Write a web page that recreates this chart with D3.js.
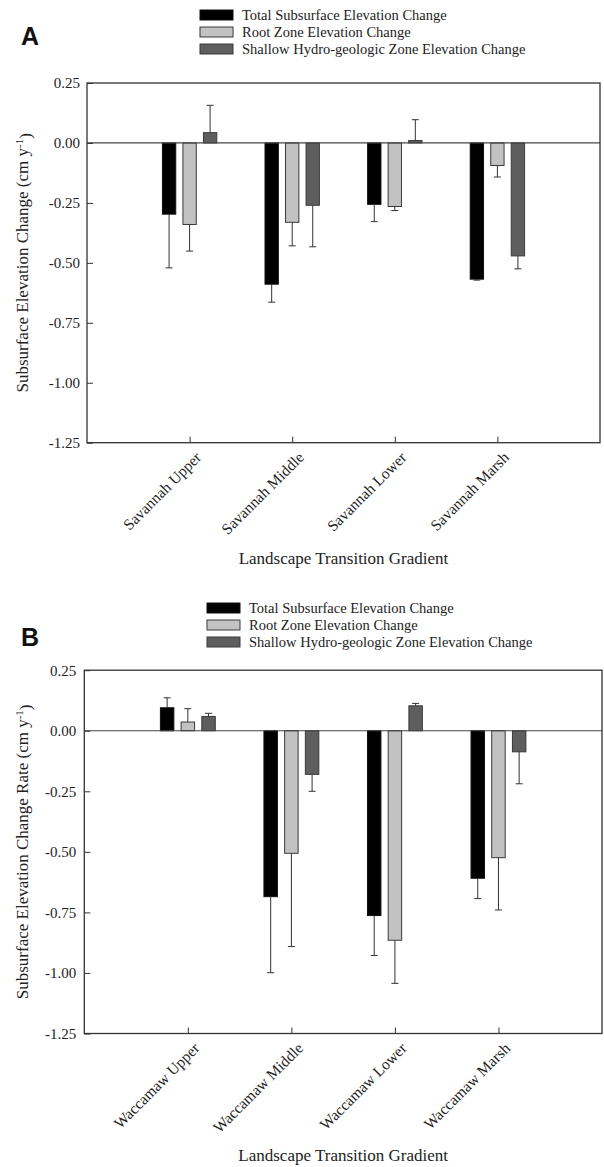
<!DOCTYPE html>
<html>
<head>
<meta charset="utf-8">
<script src="https://cdn.jsdelivr.net/npm/d3@7/dist/d3.min.js"></script>
<style>
  html, body { margin: 0; padding: 0; background: #fff; }
  svg { display: block; }
  text { font-family: "Liberation Serif", "Times New Roman", serif; fill: #222; }
</style>
</head>
<body>
<svg id="chart" width="604" height="1167"></svg>
<script>
// ---------- DATA ----------
const seriesNames = ["Total Subsurface Elevation Change", "Root Zone Elevation Change", "Shallow Hydro-geologic Zone Elevation Change"];
const yTicks = [0.25, 0.00, -0.25, -0.50, -0.75, -1.00, -1.25];

const savannahCategories = ["Savannah Upper", "Savannah Middle", "Savannah Lower", "Savannah Marsh"];
const savannahTotal = [-0.297, -0.589, -0.256, -0.568];
const savannahTotalErr = [0.224, 0.075, 0.072, 0.004];
const savannahRoot = [-0.340, -0.331, -0.265, -0.094];
const savannahRootErr = [0.111, 0.098, 0.017, 0.048];
const savannahShallow = [0.043, -0.260, 0.010, -0.471];
const savannahShallowErr = [0.114, 0.173, 0.087, 0.054];

const waccamawCategories = ["Waccamaw Upper", "Waccamaw Middle", "Waccamaw Lower", "Waccamaw Marsh"];
const waccamawTotal = [0.095, -0.685, -0.763, -0.609];
const waccamawTotalErr = [0.041, 0.314, 0.165, 0.084];
const waccamawRoot = [0.036, -0.506, -0.865, -0.524];
const waccamawRootErr = [0.055, 0.385, 0.178, 0.216];
const waccamawShallow = [0.059, -0.180, 0.103, -0.087];
const waccamawShallowErr = [0.013, 0.070, 0.010, 0.132];

// ---------- STYLE ----------
const fills = ["#000000", "#c2c2c2", "#5e5e5e"];
const strokes = ["#111111", "#3a3a3a", "#3a3a3a"];
const axisColor = "#333";
const serif = "'Liberation Serif', 'Times New Roman', serif";

const svg = d3.select("#chart");
const fmt = d => d3.format(".2f")(d).replace("\u2212", "-");

function drawPanel(cfg) {
  const g = svg.append("g");
  const x = d3.scaleLinear().domain([0, cfg.categories.length + 1]).range([cfg.left, cfg.right]);
  const y = d3.scaleLinear().domain([-1.25, 0.25]).range([cfg.bottom, cfg.top]);
  const step = x(1) - x(0);
  const stride = step * 0.2;
  const bw = step * 0.13;

  // panel letter
  g.append("text").attr("x", cfg.letterX).attr("y", cfg.letterY)
    .style("font-family", "'Liberation Sans', Arial, sans-serif")
    .style("font-weight", "bold").style("font-size", "25px").style("fill", "#111")
    .text(cfg.letter);

  // legend
  const lg = g.append("g").attr("transform", `translate(${cfg.legendX},${cfg.legendY})`);
  seriesNames.forEach((name, i) => {
    lg.append("rect").attr("x", 0).attr("y", i * 17 - 5).attr("width", 33).attr("height", 10)
      .attr("fill", fills[i]).attr("stroke", strokes[i]).attr("stroke-width", 1);
    lg.append("text").attr("x", 42).attr("y", i * 17).attr("dy", "0.35em")
      .style("font-size", "14.5px").text(name);
  });

  // bars
  cfg.series.forEach((s, si) => {
    const off = (si - 1) * stride;
    g.append("g").selectAll("rect").data(s.values).join("rect")
      .attr("x", (d, i) => x(i + 1) + off - bw / 2)
      .attr("y", d => y(Math.max(0, d)))
      .attr("width", bw)
      .attr("height", d => Math.abs(y(d) - y(0)))
      .attr("fill", fills[si]).attr("stroke", strokes[si]).attr("stroke-width", 1);
    // error bars (one-sided, away from zero)
    const eg = g.append("g").attr("stroke", "#333").attr("stroke-width", 1);
    s.values.forEach((v, i) => {
      const end = v + Math.sign(v) * s.err[i];
      const cx = x(i + 1) + off;
      eg.append("line").attr("x1", cx).attr("x2", cx).attr("y1", y(v)).attr("y2", y(end));
      eg.append("line").attr("x1", cx - 3.5).attr("x2", cx + 3.5).attr("y1", y(end)).attr("y2", y(end));
    });
  });

  // zero line
  g.append("line").attr("x1", cfg.left).attr("x2", cfg.right).attr("y1", y(0)).attr("y2", y(0))
    .attr("stroke", "#444").attr("stroke-width", 1.2);

  // frame
  g.append("rect").attr("x", cfg.left).attr("y", cfg.top)
    .attr("width", cfg.right - cfg.left).attr("height", cfg.bottom - cfg.top)
    .attr("fill", "none").attr("stroke", axisColor).attr("stroke-width", 1.3);

  // y axis (inward ticks)
  const yAxis = d3.axisLeft(y).tickValues(yTicks).tickSize(-6).tickPadding(cfg.tickPad).tickFormat(fmt);
  const ya = g.append("g").attr("transform", `translate(${cfg.left},0)`).call(yAxis)
    .attr("font-family", serif).attr("font-size", 15);
  ya.select(".domain").remove();
  ya.selectAll("line").attr("stroke", axisColor);
  ya.selectAll("text").attr("fill", "#222").style("font-family", serif);

  // x axis (inward ticks)
  const xAxis = d3.axisBottom(x).tickValues(d3.range(1, cfg.categories.length + 1)).tickSize(-6).tickFormat("");
  const xa = g.append("g").attr("transform", `translate(0,${cfg.bottom})`).call(xAxis);
  xa.select(".domain").remove();
  xa.selectAll("line").attr("stroke", axisColor);

  // rotated category labels
  g.append("g").selectAll("text").data(cfg.categories).join("text")
    .attr("transform", (d, i) => `translate(${x(i + 1) + 5},${cfg.bottom + 8}) rotate(-45)`)
    .attr("text-anchor", "end").attr("dy", "0.7em")
    .style("font-size", "15.5px").text(d => d);

  // x title
  g.append("text").attr("x", (cfg.left + cfg.right) / 2).attr("y", cfg.xTitleY)
    .attr("text-anchor", "middle").style("font-size", "17px").text("Landscape Transition Gradient");

  // y title
  const yt = g.append("text")
    .attr("transform", `translate(${cfg.yTitleX},${(cfg.top + cfg.bottom) / 2}) rotate(-90)`)
    .attr("text-anchor", "middle").style("font-size", "17px");
  yt.append("tspan").text(cfg.yTitle + " (cm y");
  yt.append("tspan").attr("dy", "-0.45em").style("font-size", "11px").text("-1");
  yt.append("tspan").attr("dy", "0.45em").text(")");
}

drawPanel({
  letter: "A", letterX: 21, letterY: 45,
  legendX: 200, legendY: 15,
  left: 87, right: 600, top: 83, bottom: 442.7, tickPad: 7,
  xTitleY: 564, yTitleX: 28,
  yTitle: "Subsurface Elevation Change",
  categories: savannahCategories,
  series: [
    { values: savannahTotal, err: savannahTotalErr },
    { values: savannahRoot, err: savannahRootErr },
    { values: savannahShallow, err: savannahShallowErr }
  ]
});

drawPanel({
  letter: "B", letterX: 21, letterY: 646,
  legendX: 207, legendY: 608,
  left: 84.3, right: 602, top: 670.2, bottom: 1033.5, tickPad: 8,
  xTitleY: 1161, yTitleX: 28,
  yTitle: "Subsurface Elevation Change Rate",
  categories: waccamawCategories,
  series: [
    { values: waccamawTotal, err: waccamawTotalErr },
    { values: waccamawRoot, err: waccamawRootErr },
    { values: waccamawShallow, err: waccamawShallowErr }
  ]
});
</script>
</body>
</html>
